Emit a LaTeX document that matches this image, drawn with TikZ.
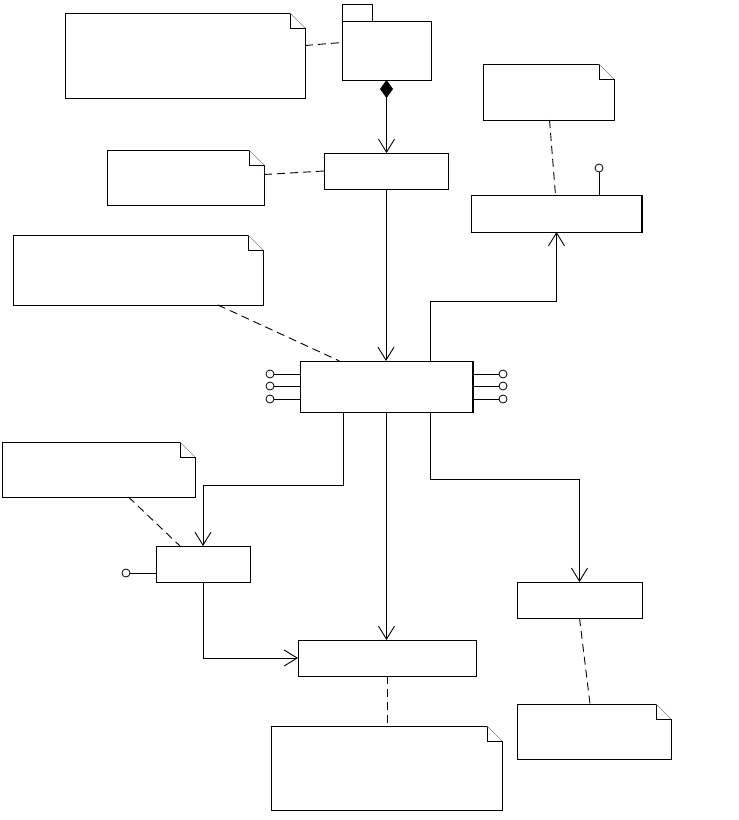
\documentclass[tikz,border=0pt]{standalone}
\usetikzlibrary{arrows.meta,calc}
\tikzset{
  box/.style={draw, line width=0.9pt, inner sep=0pt, outer sep=0pt, anchor=north west},
  notebox/.style={draw=none, inner sep=0pt, outer sep=0pt, anchor=north west},
  line/.style={line width=0.9pt},
  arr/.style={line width=0.9pt, -{Straight Barb[length=13pt,width=16pt,line width=0.9pt]}},
  dashline/.style={line width=0.9pt, dash pattern=on 8pt off 5pt},
  lolli/.style={line width=0.8pt, fill=white},
  thickedge/.style={line width=2pt}
}
\newcommand\drawnote[1]{%
  \draw[line width=0.9pt] ([xshift=-15pt]#1.north east) -- (#1.north west) -- (#1.south west) -- (#1.south east) -- ([yshift=-15pt]#1.north east) -- ([xshift=-15pt,yshift=-15pt]#1.north east) -- cycle;
  \draw[gray, line width=0.5pt] ([xshift=-15pt]#1.north east) -- ([yshift=-15pt]#1.north east);
}
\begin{document}
\begin{tikzpicture}[x=1pt, y=-1pt]
\useasboundingbox (0,0) rectangle (739,820);

% notes
\node[notebox, minimum width=240pt, minimum height=85pt] (n1) at (65,13) {};
\node[notebox, minimum width=157pt, minimum height=55pt] (n2) at (107,150) {};
\node[notebox, minimum width=250pt, minimum height=70pt] (n3) at (13,235) {};
\node[notebox, minimum width=131pt, minimum height=56pt] (n4) at (483,64) {};
\node[notebox, minimum width=193pt, minimum height=55pt] (n5) at (2,442) {};
\node[notebox, minimum width=154pt, minimum height=55pt] (n6) at (517,704) {};
\node[notebox, minimum width=231pt, minimum height=84pt] (n7) at (271,726) {};
\drawnote{n1}\drawnote{n2}\drawnote{n3}\drawnote{n4}\drawnote{n5}\drawnote{n6}\drawnote{n7}

% package
\node[box, minimum width=30pt, minimum height=17pt] (tab) at (342,4) {};
\node[box, minimum width=89pt, minimum height=59pt] (pkg) at (342,21) {};

% boxes
\node[box, minimum width=124pt, minimum height=36pt] (b1) at (324,153) {};
\node[box, minimum width=171pt, minimum height=37pt] (b2) at (471,195) {};
\node[box, minimum width=173pt, minimum height=51pt] (b3) at (300,361) {};
\node[box, minimum width=94pt, minimum height=36pt] (b4) at (156,546) {};
\node[box, minimum width=178pt, minimum height=36pt] (b5) at (298,640) {};
\node[box, minimum width=125pt, minimum height=36pt] (b6) at (517,582) {};
\draw[thickedge] (b2.north east) -- (b2.south east);
\draw[thickedge] (b3.north east) -- (b3.south east);

% lollipops
\coordinate (la) at (270,374);
\coordinate (lb) at (270,386);
\coordinate (lc) at (270,399);
\coordinate (ra) at (503,374);
\coordinate (rb) at (503,386);
\coordinate (rc) at (503,399);
\foreach \p in {la,lb,lc}{\draw[line] (\p) -- (b3.west |- \p); \draw[lolli] (\p) circle (4pt);}
\foreach \p in {ra,rb,rc}{\draw[line] (\p) -- (b3.east |- \p); \draw[lolli] (\p) circle (4pt);}
\coordinate (l2) at (599,168);
\draw[line] ([yshift=-4pt]l2) -- (b2.north -| l2);
\draw[lolli] (l2) circle (4pt);
\coordinate (l4) at (126,573);
\draw[line] (l4) -- (b4.west |- l4);
\draw[lolli] (l4) circle (4pt);

% composition
\draw[line width=0.9pt, {Diamond[length=18pt,width=13pt]}-{Straight Barb[length=13pt,width=16pt,line width=0.9pt]}] (pkg.south) -- (pkg.south |- b1.north);

% arrows
\draw[arr] (b1.south) -- (b1.south |- b3.north);
\coordinate (k1) at (430,301);
\draw[arr] (b3.north -| k1) -- (k1) -| (b2.south);
\coordinate (k2) at (343,485);
\draw[arr] (b3.south -| k2) -- (k2) -| (b4.north);
\coordinate (k3) at (430,479);
\draw[arr] (b3.south -| k3) -- (k3) -| (b6.north);
\draw[arr] (b3.south) -- (b3.south |- b5.north);
\draw[arr] (b4.south) |- (b5.west);

% dashed note links
\draw[dashline] ([yshift=10pt]n1.east) -- ([yshift=8pt]pkg.west);
\draw[dashline] ([yshift=3pt]n2.east) -- (b1.west);
\draw[dashline] ([xshift=80pt]n3.south) -- ([xshift=-47pt]b3.north);
\draw[dashline] ([xshift=1pt]n4.south) -- ([xshift=-1pt]b2.north);
\draw[dashline] ([xshift=30pt]n5.south) -- ([xshift=-23pt]b4.north);
\draw[dashline] (b5.south) -- (b5.south |- n7.north);
\draw[dashline] (b6.south) -- ([xshift=-4pt]n6.north);
\end{tikzpicture}
\end{document}
